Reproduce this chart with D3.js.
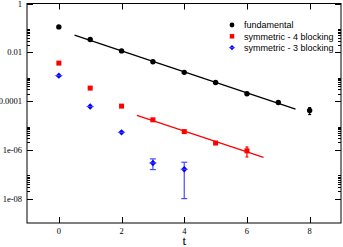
<!DOCTYPE html>
<html>
<head>
<meta charset="utf-8">
<script src="https://cdn.jsdelivr.net/npm/d3@7"></script>
<style>
  body { margin: 0; background: #fff; }
  svg { display: block; }
  .serif { font-family: 'Liberation Serif'; }
  .sans { font-family: 'Liberation Sans'; }
</style>
</head>
<body>
<svg id="canvas" width="343" height="247"></svg>
<script>
// data
let tFund = [0, 1, 2, 3, 4, 5, 6, 7, 8]
let yFund = [0.11, 0.0335, 0.0114, 0.0041, 0.0015, 5.8e-4, 2.0e-4, 8.7e-5, 4.1e-5]
let eFund = [0, 0, 0, 0, 0, 0, 0, 0, 1.3e-5]

let tSym4 = [0, 1, 2, 3, 4, 5, 6]
let ySym4 = [3.6e-3, 3.4e-4, 6.2e-5, 1.7e-5, 5.6e-6, 1.9e-6, 9.1e-7]
let eSym4 = [0, 0, 0, 0, 0, 0, 4e-7]

let tSym3 = [0, 1, 2, 3, 4]
let ySym3 = [1.1e-3, 6e-5, 5.2e-6, 2.9e-7, 1.6e-7]
let eSym3 = [0, 0, 0, 1.35e-7, 1.5e-7]

// fitted lines, start and end
let fitFundT = [0.5, 7.55]
let fitFundY = [0.05, 4.7e-5]
let fitSym4T = [2.49, 6.53]
let fitSym4Y = [2.6e-5, 4.9e-7]

let xTicks = [0, 2, 4, 6, 8]
let yTicks = [1, 1e-2, 1e-4, 1e-6, 1e-8]
let yTickLabels = ['1', '0.01', '0.0001', '1e-06', '1e-08']

let legendNames = ['fundamental', 'symmetric - 4 blocking', 'symmetric - 3 blocking']

let canvas = d3.select('#canvas')

let plotLeft = 27, plotRight = 341, plotTop = 3.5, plotBottom = 223

let xScale = d3.scaleLinear().domain([-1, 9]).range([plotLeft + 0.5, plotRight])
let yScale = d3.scaleLog().domain([1e-9, 1]).range([plotBottom, plotTop])

// minor ticks: 2..9 times each major value
let minorTicks = []
yTicks.forEach((v) => {
    for (let k = 2; k <= 9; k++) {
        minorTicks.push(v * k)
    }
})
minorTicks = minorTicks.filter((v) => v < 1)

let axes = canvas.append('g').attr('stroke', '#000').attr('stroke-width', 1)

// frame
axes.append('rect')
    .attr('x', plotLeft).attr('y', plotTop)
    .attr('width', plotRight - plotLeft).attr('height', plotBottom - plotTop)
    .attr('fill', 'none')

// x ticks bottom and top, inward
xTicks.forEach((t) => {
    let x = Math.round(xScale(t)) + 0.5
    axes.append('line').attr('x1', x).attr('x2', x).attr('y1', plotBottom).attr('y2', plotBottom - 6)
    axes.append('line').attr('x1', x).attr('x2', x).attr('y1', plotTop).attr('y2', plotTop + 6)
})

// y ticks left and right, inward
yTicks.forEach((v) => {
    let y = Math.round(yScale(v)) + 0.5
    axes.append('line').attr('x1', plotLeft).attr('x2', plotLeft + 6).attr('y1', y).attr('y2', y)
    axes.append('line').attr('x1', plotRight).attr('x2', plotRight - 6).attr('y1', y).attr('y2', y)
})
minorTicks.forEach((v) => {
    let y = Math.round(yScale(v)) + 0.5
    axes.append('line').attr('x1', plotLeft).attr('x2', plotLeft + 3).attr('y1', y).attr('y2', y)
    axes.append('line').attr('x1', plotRight).attr('x2', plotRight - 3).attr('y1', y).attr('y2', y)
})

// tick labels
canvas.append('g')
    .selectAll('text')
    .data(xTicks)
    .enter()
    .append('text')
    .attr('class', 'serif')
    .attr('x', (t) => xScale(t))
    .attr('y', 233.5)
    .attr('text-anchor', 'middle')
    .attr('font-size', 8.5)
    .text((t) => t)

canvas.append('g')
    .selectAll('text')
    .data(yTicks)
    .enter()
    .append('text')
    .attr('class', 'serif')
    .attr('x', 22)
    .attr('y', (v) => yScale(v) + 3)
    .attr('text-anchor', 'end')
    .attr('font-size', 8.5)
    .text((v, i) => yTickLabels[i])

canvas.append('text')
    .attr('class', 'serif')
    .attr('x', xScale(4))
    .attr('y', 244.5)
    .attr('text-anchor', 'middle')
    .attr('font-size', 13)
    .text('t')

// fit lines
let drawFit = (ts, ys, color) => {
    canvas.append('line')
        .attr('x1', xScale(ts[0])).attr('y1', yScale(ys[0]))
        .attr('x2', xScale(ts[1])).attr('y2', yScale(ys[1]))
        .attr('stroke', color)
        .attr('stroke-width', 1.3)
}
drawFit(fitFundT, fitFundY, '#000')
drawFit(fitSym4T, fitSym4Y, '#ff0000')

// error bars
let drawErrors = (ts, ys, es, color, cap) => {
    ts.forEach((t, i) => {
        if (es[i] <= 0) return
        let x = xScale(t)
        let y1 = yScale(ys[i] + es[i])
        let y2 = yScale(ys[i] - es[i])
        let g = canvas.append('g').attr('stroke', color).attr('stroke-width', 1.2)
        g.append('line').attr('x1', x).attr('x2', x).attr('y1', y1).attr('y2', y2)
        g.append('line').attr('x1', x - cap).attr('x2', x + cap).attr('y1', y1).attr('y2', y1)
        g.append('line').attr('x1', x - cap).attr('x2', x + cap).attr('y1', y2).attr('y2', y2)
    })
}
drawErrors(tFund, yFund, eFund, '#000', 1.5)
drawErrors(tSym4, ySym4, eSym4, '#ff0000', 1.5)
drawErrors(tSym3, ySym3, eSym3, '#4a4aff', 3)

// markers
let circle = (g, x, y, r) => {
    g.append('circle').attr('cx', x).attr('cy', y).attr('r', r).attr('fill', '#000')
}
let square = (g, x, y, s) => {
    g.append('rect').attr('x', x - s / 2).attr('y', y - s / 2)
        .attr('width', s).attr('height', s).attr('fill', '#ff0000')
}
let diamond = (g, x, y, s) => {
    g.append('path')
        .attr('d', `M${x},${y - s}L${x + s},${y}L${x},${y + s}L${x - s},${y}Z`)
        .attr('fill', '#0000ff')
    g.append('line').attr('x1', x - s - 0.5).attr('x2', x + s + 0.5).attr('y1', y).attr('y2', y)
        .attr('stroke', '#5555ff').attr('stroke-width', 0.8)
}

let marks = canvas.append('g')
tFund.forEach((t, i) => circle(marks, xScale(t), yScale(yFund[i]), 2.7))
tSym4.forEach((t, i) => square(marks, xScale(t), yScale(ySym4[i]), 5))
tSym3.forEach((t, i) => diamond(marks, xScale(t), yScale(ySym3[i]), 3.2))

// legend
let legend = canvas.append('g')
let legendY = [25, 36.3, 47.6]
circle(legend, 232, legendY[0], 2.4)
square(legend, 232, legendY[1], 4.5)
diamond(legend, 232, legendY[2], 2.6)
legend.selectAll('text')
    .data(legendNames)
    .enter()
    .append('text')
    .attr('class', 'sans')
    .attr('x', 244)
    .attr('y', (d, i) => legendY[i] + 3.2)
    .attr('font-size', 9)
    .text((d) => d)
</script>
</body>
</html>
